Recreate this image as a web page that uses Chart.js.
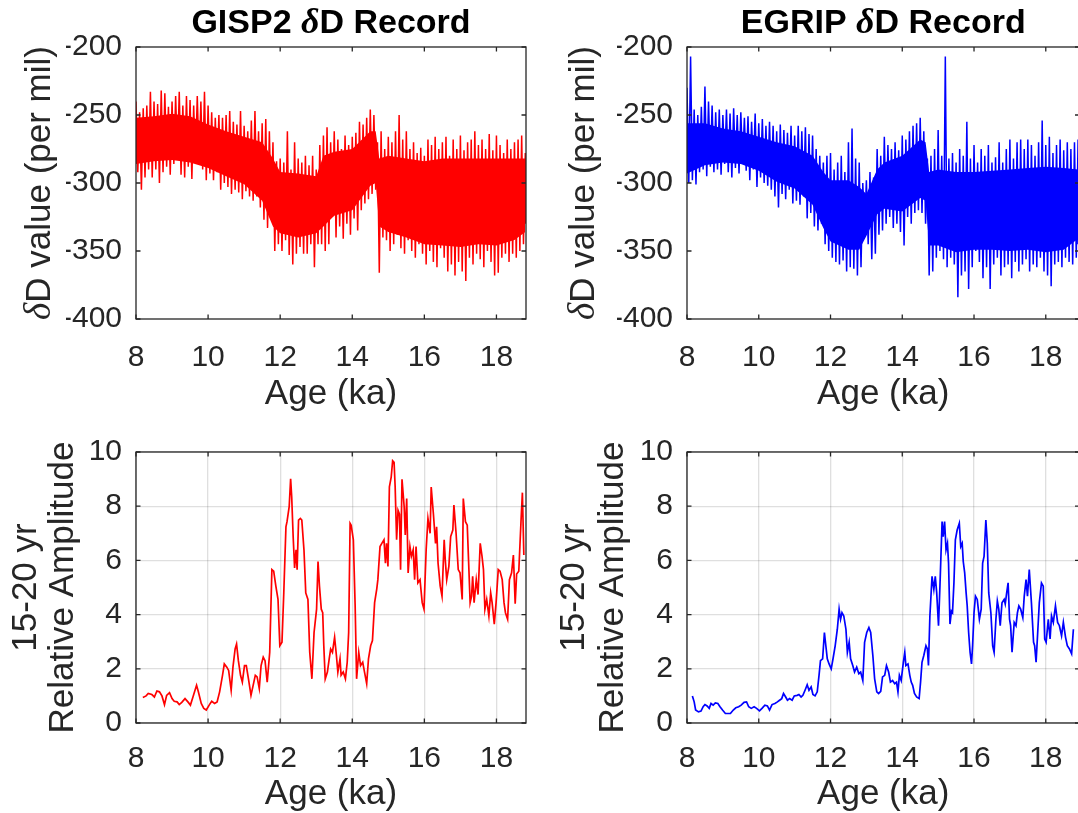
<!DOCTYPE html>
<html><head><meta charset="utf-8">
<script src="https://cdn.jsdelivr.net/npm/chart.js@4.4.0/dist/chart.umd.min.js"></script>
<style>
html,body{margin:0;padding:0;background:#fff;overflow:hidden;width:1078px;height:813px;position:relative;}
canvas{position:absolute;display:block;}
</style></head><body>
<canvas id="c1" width="545" height="420" style="left:0;top:0"></canvas>
<canvas id="c2" width="545" height="420" style="left:545px;top:0"></canvas>
<canvas id="c3" width="545" height="393" style="left:0;top:420px"></canvas>
<canvas id="c4" width="545" height="393" style="left:545px;top:420px"></canvas>
<script>
// ---------- DATA ----------
const recordAge = [8.0,8.1,8.2,8.3,8.4,8.5,8.6,8.7,8.8,8.9,9.0,9.1,9.2,9.3,9.4,9.5,9.6,9.7,9.8,9.9,
 10.0,10.1,10.2,10.3,10.4,10.5,10.6,10.7,10.8,10.9,11.0,11.1,11.2,11.3,11.4,11.5,11.6,11.7,11.8,11.9,
 12.0,12.1,12.2,12.3,12.4,12.5,12.6,12.7,12.8,12.9,13.0,13.1,13.2,13.3,13.4,13.5,13.6,13.7,13.8,13.9,
 14.0,14.1,14.2,14.3,14.4,14.5,14.6,14.7,14.8,14.9,15.0,15.1,15.2,15.3,15.4,15.5,15.6,15.7,15.8,15.9,
 16.0,16.1,16.2,16.3,16.4,16.5,16.6,16.7,16.8,16.9,17.0,17.1,17.2,17.3,17.4,17.5,17.6,17.7,17.8,17.9,
 18.0,18.1,18.2,18.3,18.4,18.5,18.6,18.7,18.8,18.9];

// GISP2 dD: upper and lower excursions per 0.1 ka
const gispHigh = [-240,-248,-245,-243,-233,-240,-242,-232,-234,-244,-240,-236,-233,-243,-236,-239,-243,-236,-240,-233,
 -243,-248,-252,-250,-252,-250,-247,-255,-257,-247,-258,-262,-254,-247,-262,-256,-253,-262,-270,-284,
 -282,-285,-262,-290,-270,-282,-285,-280,-287,-280,-290,-272,-265,-259,-270,-262,-268,-275,-265,-272,
 -266,-263,-255,-257,-252,-246,-250,-270,-262,-275,-266,-270,-262,-250,-268,-262,-275,-270,-278,-274,
 -280,-268,-272,-266,-275,-270,-266,-280,-268,-275,-265,-276,-270,-268,-262,-272,-268,-275,-264,-276,
 -265,-272,-278,-268,-275,-270,-268,-265,-278];
const gispLow = [-292,-305,-296,-290,-296,-290,-300,-292,-288,-294,-286,-283,-294,-296,-288,-297,-285,-283,-290,-298,
 -293,-298,-292,-305,-300,-303,-308,-305,-307,-312,-306,-310,-313,-310,-318,-327,-333,-322,-350,-345,
 -350,-342,-353,-360,-352,-347,-352,-352,-345,-362,-345,-345,-350,-345,-325,-340,-332,-341,-330,-338,
 -326,-335,-320,-315,-312,-308,-305,-366,-340,-342,-350,-345,-338,-348,-352,-342,-350,-355,-345,-352,
 -360,-350,-358,-362,-348,-355,-365,-360,-368,-358,-365,-372,-355,-360,-352,-356,-362,-350,-358,-368,
 -366,-355,-352,-358,-352,-355,-350,-345,-330];
// GISP2 dD: dense core of the signal
const gispCoreAge  = [8.0,8.5,9.0,9.5,10.0,10.5,11.0,11.5,11.8,12.0,12.5,13.0,13.2,13.5,14.0,14.5,14.65,14.75,15.0,15.5,16.0,16.5,17.0,17.5,18.0,18.5,18.8];
const gispCoreHigh = [-252,-251,-249,-251,-257,-262,-266,-270,-282,-292,-293,-295,-280,-277,-275,-262,-262,-282,-280,-282,-284,-282,-282,-282,-282,-282,-282];
const gispCoreLow  = [-286,-284,-283,-285,-289,-295,-301,-313,-332,-337,-340,-337,-332,-324,-320,-302,-300,-332,-336,-340,-345,-346,-347,-345,-346,-342,-336];

// EGRIP dD: upper and lower excursions per 0.1 ka
const egripHigh = [-230,-207,-246,-250,-244,-229,-240,-243,-248,-246,-250,-246,-249,-245,-250,-248,-252,-251,-255,-249,
 -256,-253,-258,-255,-258,-262,-257,-261,-263,-258,-265,-258,-262,-259,-264,-265,-275,-280,-285,-280,
 -278,-290,-285,-280,-292,-270,-260,-282,-285,-300,-298,-292,-296,-275,-280,-266,-272,-275,-270,-276,
 -265,-268,-262,-258,-256,-252,-262,-282,-280,-275,-261,-280,-207,-282,-278,-285,-275,-280,-255,-282,
 -272,-285,-275,-280,-272,-285,-281,-270,-285,-275,-268,-282,-270,-268,-275,-268,-272,-280,-270,-254,
 -272,-266,-278,-272,-268,-276,-270,-275,-270,-268];
const egripLow = [-300,-298,-301,-292,-290,-295,-288,-292,-290,-294,-286,-292,-296,-289,-293,-285,-291,-298,-290,-303,
 -296,-300,-302,-305,-310,-318,-308,-312,-305,-315,-313,-316,-310,-326,-322,-332,-335,-330,-345,-350,
 -355,-358,-360,-357,-365,-362,-363,-368,-362,-335,-345,-356,-352,-338,-335,-330,-325,-333,-330,-336,
 -346,-325,-330,-322,-320,-322,-330,-368,-365,-355,-350,-356,-362,-355,-360,-384,-368,-365,-378,-362,
 -350,-358,-370,-362,-378,-360,-355,-368,-362,-360,-370,-358,-365,-360,-356,-365,-360,-362,-355,-365,
 -368,-376,-360,-358,-362,-355,-358,-360,-355,-345];
// EGRIP dD: dense core of the signal
const egripCoreAge  = [8.0,8.5,9.0,9.5,10.0,10.5,11.0,11.5,11.8,12.0,12.5,12.8,13.0,13.3,13.5,14.0,14.5,14.65,14.75,15.0,15.5,16.0,16.5,17.0,17.5,18.0,18.5,18.9];
const egripCoreHigh = [-256,-256,-260,-262,-266,-270,-273,-280,-292,-298,-298,-303,-308,-290,-285,-280,-268,-270,-292,-290,-292,-292,-291,-290,-289,-288,-289,-290];
const egripCoreLow  = [-293,-287,-285,-286,-291,-299,-304,-316,-333,-343,-349,-349,-339,-323,-319,-321,-311,-313,-346,-346,-351,-349,-349,-350,-349,-351,-349,-341];

// 15-20 yr relative amplitude, GISP2
const gispAmpAge = [8.19,8.28,8.34,8.44,8.51,8.58,8.65,8.72,8.79,8.85,8.93,9.00,9.06,9.14,9.20,9.27,9.36,9.44,9.51,9.58,
 9.68,9.73,9.81,9.88,9.95,10.03,10.10,10.18,10.25,10.32,10.40,10.45,10.52,10.57,10.64,10.69,10.75,10.79,10.84,10.90,
 10.95,11.01,11.06,11.12,11.19,11.25,11.31,11.36,11.42,11.47,11.53,11.58,11.64,11.71,11.77,11.82,11.88,11.94,11.99,12.05,
 12.10,12.16,12.19,12.25,12.29,12.32,12.36,12.40,12.44,12.47,12.51,12.56,12.60,12.66,12.71,12.77,12.82,12.88,12.94,13.01,
 13.05,13.09,13.14,13.18,13.21,13.25,13.31,13.36,13.40,13.45,13.51,13.56,13.60,13.66,13.69,13.75,13.81,13.86,13.90,13.94,
 13.97,14.03,14.08,14.12,14.18,14.23,14.29,14.34,14.40,14.45,14.51,14.56,14.62,14.68,14.71,14.77,14.82,14.88,14.92,14.95,
 14.99,15.03,15.08,15.12,15.16,15.19,15.23,15.27,15.31,15.34,15.38,15.44,15.47,15.51,15.55,15.60,15.64,15.69,15.73,15.77,
 15.82,15.88,15.94,15.99,16.05,16.10,16.16,16.19,16.25,16.31,16.34,16.38,16.44,16.49,16.55,16.58,16.62,16.68,16.73,16.79,
 16.82,16.88,16.94,16.99,17.05,17.08,17.14,17.19,17.27,17.31,17.34,17.38,17.44,17.49,17.55,17.60,17.64,17.68,17.73,17.79,
 17.84,17.88,17.94,17.99,18.05,18.10,18.16,18.21,18.25,18.31,18.36,18.42,18.47,18.52,18.56,18.62,18.68,18.72,18.76];
const gispAmp = [0.94,1.00,1.09,1.05,0.96,1.18,1.15,1.00,0.68,1.02,1.12,0.90,0.80,0.78,0.68,0.76,0.90,0.78,0.66,0.96,
 1.39,1.15,0.72,0.54,0.48,0.66,0.80,0.72,0.78,1.15,1.76,2.18,2.06,1.94,1.21,2.06,2.73,2.91,2.30,1.76,
 1.51,2.12,2.12,1.63,1.02,1.39,1.76,1.70,1.27,2.12,2.43,2.30,1.51,2.61,5.66,5.60,5.05,4.56,2.85,2.98,
 4.80,7.24,7.43,7.98,9.01,8.34,6.88,5.72,6.39,5.66,7.49,7.55,7.49,6.39,4.80,4.56,2.61,1.63,3.34,4.20,
 5.96,5.05,4.20,4.07,2.85,1.63,1.88,2.37,2.73,2.61,3.16,2.49,1.88,2.37,1.76,1.88,1.63,2.24,3.34,7.37,
 7.30,6.76,4.32,1.63,2.61,2.12,2.24,1.88,1.45,2.37,2.85,3.04,4.44,4.95,5.29,6.51,6.63,6.76,5.90,6.63,
 5.78,8.71,9.07,9.68,9.62,8.71,6.76,7.85,7.71,5.66,8.99,7.98,6.94,8.28,5.54,6.51,6.15,6.39,5.29,6.51,
 5.17,5.29,4.44,4.20,6.39,7.55,7.00,8.71,7.73,6.63,7.24,5.90,5.05,4.68,6.76,6.02,5.29,5.78,6.88,7.12,
 8.04,7.00,5.66,5.54,4.56,8.28,7.43,7.30,4.44,4.68,5.41,4.44,5.29,4.74,6.63,6.15,5.66,4.20,4.56,3.95,
 4.80,4.44,3.65,4.44,5.66,5.60,5.29,4.44,4.07,3.83,5.29,5.54,6.20,4.40,5.50,5.60,7.40,8.50,6.20];

// 15-20 yr relative amplitude, EGRIP
const egripAmpAge = [8.15,8.20,8.24,8.32,8.39,8.45,8.50,8.56,8.62,8.67,8.73,8.79,8.86,8.92,8.99,9.07,9.14,9.21,9.29,9.36,
 9.44,9.51,9.59,9.66,9.72,9.79,9.87,9.94,10.02,10.09,10.17,10.24,10.30,10.37,10.45,10.52,10.58,10.64,10.69,10.75,
 10.80,10.86,10.93,10.99,11.07,11.12,11.18,11.23,11.29,11.35,11.40,11.46,11.51,11.57,11.63,11.68,11.72,11.78,11.83,11.87,
 11.91,11.96,12.02,12.07,12.13,12.19,12.24,12.28,12.32,12.37,12.43,12.47,12.52,12.56,12.62,12.67,12.73,12.79,12.84,12.90,
 12.95,13.01,13.07,13.12,13.18,13.23,13.29,13.34,13.40,13.45,13.51,13.56,13.62,13.67,13.73,13.79,13.84,13.88,13.92,13.97,
 14.03,14.07,14.10,14.16,14.21,14.25,14.29,14.34,14.40,14.47,14.51,14.55,14.60,14.66,14.70,14.73,14.77,14.83,14.88,14.92,
 14.96,15.01,15.05,15.11,15.14,15.18,15.22,15.26,15.29,15.33,15.37,15.40,15.44,15.48,15.53,15.59,15.63,15.67,15.70,15.74,
 15.78,15.81,15.85,15.89,15.93,15.96,16.00,16.04,16.09,16.15,16.20,16.24,16.28,16.33,16.37,16.41,16.47,16.52,16.56,16.61,
 16.65,16.69,16.73,16.78,16.84,16.87,16.91,16.95,16.99,17.02,17.06,17.12,17.17,17.21,17.25,17.30,17.36,17.40,17.45,17.49,
 17.54,17.60,17.66,17.69,17.73,17.77,17.82,17.88,17.93,17.97,18.01,18.07,18.12,18.16,18.21,18.27,18.33,18.38,18.44,18.49,
 18.55,18.60,18.66,18.72,18.77];
const egripAmp = [1.00,0.78,0.48,0.41,0.44,0.60,0.68,0.63,0.54,0.72,0.66,0.74,0.72,0.60,0.48,0.35,0.35,0.35,0.48,0.56,
 0.60,0.66,0.76,0.78,0.60,0.54,0.60,0.54,0.45,0.54,0.66,0.63,0.48,0.68,0.72,0.78,0.84,0.90,1.09,0.96,
 0.84,0.90,0.84,1.00,1.02,1.05,0.96,1.02,1.21,1.41,1.21,1.33,1.05,1.00,1.15,1.76,2.30,2.37,3.34,2.85,
 2.37,2.18,2.00,2.37,2.85,3.46,4.20,3.83,4.07,3.95,3.46,2.61,2.98,2.37,2.12,1.88,2.06,1.82,1.88,1.57,
 2.98,3.34,3.52,3.34,2.49,1.63,1.15,1.09,1.17,1.70,1.76,2.12,1.88,1.51,1.57,1.45,1.51,1.15,1.76,1.57,
 2.24,2.61,2.12,2.18,1.76,1.51,1.39,1.09,0.96,0.90,1.51,2.24,2.49,2.85,2.73,2.12,3.95,5.41,4.93,5.41,
 4.80,3.59,5.05,7.43,6.88,7.43,6.39,6.63,5.90,3.65,4.13,4.07,5.17,6.76,7.12,7.37,6.51,6.63,5.96,5.54,
 4.80,4.32,3.34,2.61,2.18,2.85,4.07,4.68,4.56,3.83,4.20,5.90,6.15,7.49,6.63,4.80,4.07,2.85,2.61,3.83,
 4.50,4.20,3.59,4.44,4.56,4.39,4.80,5.17,3.83,3.59,2.61,3.71,3.59,4.07,4.32,4.20,3.89,4.68,5.29,4.68,
 5.66,4.44,2.98,2.85,2.24,3.22,4.44,5.17,5.05,3.10,2.98,3.83,3.10,3.95,3.71,4.32,3.71,3.59,3.22,3.71,
 3.17,2.85,2.73,2.55,3.46];

const xTickStep = 2;
const deltaTicks = {min:-400, max:-200, step:50};
const ampTicks = {min:0, max:10, step:2};

// ---------- RENDERING ----------
const FONT = '"Liberation Sans", Arial, Helvetica, sans-serif';
const SERIF = '"Liberation Serif", "Times New Roman", serif';
const TXT = '#262626';
const TICK_SIZE = 30, LABEL_SIZE = 35, TITLE_SIZE = 34;

function highPts(age, hi){ return hi.map((v,i)=>({x:age[i], y:v})); }
function lowPts(age, lo){
  const n = lo.length;
  return lo.map((v,i)=>({x:(i<n-1)?(age[i]+age[i+1])/2:age[i], y:v}));
}
function zigzag(age, hi, lo){
  const h = highPts(age, hi), l = lowPts(age, lo), pts = [];
  for (let i=0;i<Math.min(h.length,l.length);i++){ pts.push(h[i]); pts.push(l[i]); }
  return pts;
}
function pairs(ax, ay){ return ax.map((a,i)=>({x:a,y:ay[i]})); }

function drawRuns(ctx, runs, x, y){
  let w=0; for(const r of runs){ctx.font=r.f; w+=ctx.measureText(r.t).width;}
  let cx = x - w/2; ctx.textAlign='left';
  for(const r of runs){ctx.font=r.f; ctx.fillText(r.t,cx,y); cx+=ctx.measureText(r.t).width;}
}

function makeChart(id, spec){
  const Wy = 70, Hx = 60;
  const canvas = document.getElementById(id);
  const W = canvas.width, H = canvas.height;
  const a = spec.area;
  const decor = {
    id:'decor',
    afterDraw(chart){
      const ctx = chart.ctx, ca = chart.chartArea, xs = chart.scales.x, ys = chart.scales.y;
      ctx.save();
      ctx.strokeStyle = TXT; ctx.lineWidth = 1.3;
      ctx.strokeRect(ca.left, ca.top, ca.right-ca.left, ca.bottom-ca.top);
      const L = 4.5;
      ctx.beginPath();
      xs.ticks.forEach(t=>{ const p = xs.getPixelForValue(t.value);
        ctx.moveTo(p, ca.bottom); ctx.lineTo(p, ca.bottom-L);
        ctx.moveTo(p, ca.top); ctx.lineTo(p, ca.top+L); });
      ys.ticks.forEach(t=>{ const p = ys.getPixelForValue(t.value);
        ctx.moveTo(ca.left, p); ctx.lineTo(ca.left+L, p);
        ctx.moveTo(ca.right, p); ctx.lineTo(ca.right-L, p); });
      ctx.stroke();
      const cxm = (ca.left+ca.right)/2, cym = (ca.top+ca.bottom)/2;
      ctx.fillStyle = TXT; ctx.textBaseline='middle';
      drawRuns(ctx, [{t:'Age (ka)', f:`${LABEL_SIZE}px ${FONT}`}], cxm, ca.bottom+spec.xlabOff);
      if (spec.title){
        ctx.fillStyle = '#000'; ctx.textBaseline='alphabetic';
        drawRuns(ctx, [{t:spec.title[0]+' ', f:`bold ${TITLE_SIZE}px ${FONT}`},
                       {t:'δ', f:`italic bold ${TITLE_SIZE+2}px ${SERIF}`},
                       {t:'D '+spec.title[1], f:`bold ${TITLE_SIZE}px ${FONT}`}], cxm, ca.top-14);
      }
      ctx.fillStyle = TXT; ctx.textBaseline='middle';
      ctx.save();
      if (spec.ylabel === 'delta'){
        ctx.translate(ca.left-spec.ylabOff[0], cym); ctx.rotate(-Math.PI/2);
        drawRuns(ctx, [{t:'δ', f:`italic ${LABEL_SIZE+2}px ${SERIF}`},{t:'D value (per mil)', f:`${LABEL_SIZE}px ${FONT}`}], 0, 0);
      } else {
        ctx.translate(ca.left-spec.ylabOff[0], cym); ctx.rotate(-Math.PI/2);
        drawRuns(ctx, [{t:'15-20 yr', f:`${LABEL_SIZE}px ${FONT}`}], 0, 0);
        ctx.restore(); ctx.save();
        ctx.translate(ca.left-spec.ylabOff[1], cym); ctx.rotate(-Math.PI/2);
        drawRuns(ctx, [{t:'Relative Amplitude', f:`${LABEL_SIZE}px ${FONT}`}], 0, 0);
      }
      ctx.restore();
      ctx.restore();
    }
  };
  return new Chart(canvas, {
    type:'line',
    data:{datasets:spec.datasets},
    options:{
      responsive:false, animation:false, events:[],
      parsing:false,
      layout:{padding:{left:a.l-Wy, top:a.t, right:W-a.r, bottom:H-a.b-Hx}},
      plugins:{legend:{display:false}, tooltip:{enabled:false}, title:{display:false}},
      elements:{point:{radius:0}, line:{tension:0}},
      scales:{
        x:{type:'linear', min:8, max:spec.xmax,
           ticks:{stepSize:xTickStep, includeBounds:false, autoSkip:false, maxRotation:0, padding:spec.xtickPad,
                  color:TXT, font:{family:FONT, size:TICK_SIZE}},
           grid:{display:spec.grid, drawTicks:false, color:'rgba(38,38,38,0.15)', lineWidth:1.3},
           border:{display:false},
           afterFit(s){ s.height = Hx; }},
        y:{type:'linear', min:spec.yt.min, max:spec.yt.max,
           ticks:{stepSize:spec.yt.step, autoSkip:false, padding:14,
                  color:TXT, font:{family:FONT, size:TICK_SIZE}},
           grid:{display:spec.grid, drawTicks:false, color:'rgba(38,38,38,0.15)', lineWidth:1.3},
           border:{display:false},
           afterFit(s){ s.width = Wy; }}
      }
    },
    plugins:[decor]
  });
}

function recordSets(hi, lo, coreAge, coreHi, coreLo, color){
  return [
    {data:pairs(coreAge, coreHi), borderWidth:0, borderColor:color, backgroundColor:color, fill:'+1', pointRadius:0},
    {data:pairs(coreAge, coreLo), borderWidth:0, borderColor:color, fill:false, pointRadius:0},
    {data:zigzag(recordAge, hi, lo), borderWidth:1.5, borderColor:color, fill:false, pointRadius:0}
  ];
}
function ampSets(ax, ay, color){
  return [{data:pairs(ax, ay), borderWidth:1.7, borderColor:color, fill:false, pointRadius:0}];
}

makeChart('c1', {area:{l:136,t:47,r:526,b:319}, xmax:18.82, yt:deltaTicks, grid:false, xtickPad:21, xlabOff:75,
  datasets:recordSets(gispHigh, gispLow, gispCoreAge, gispCoreHigh, gispCoreLow, '#ff0000'),
  title:['GISP2','Record'], ylabel:'delta', ylabOff:[96]});
makeChart('c2', {area:{l:142,t:47,r:534.5,b:319}, xmax:18.94, yt:deltaTicks, grid:false, xtickPad:21, xlabOff:75,
  datasets:recordSets(egripHigh, egripLow, egripCoreAge, egripCoreHigh, egripCoreLow, '#0000ff'),
  title:['EGRIP','Record'], ylabel:'delta', ylabOff:[103]});
makeChart('c3', {area:{l:136,t:30,r:526,b:303}, xmax:18.82, yt:ampTicks, grid:true, xtickPad:18, xlabOff:71,
  datasets:ampSets(gispAmpAge, gispAmp, '#ff0000'), ylabel:'amp', ylabOff:[110,73]});
makeChart('c4', {area:{l:142,t:30,r:534.5,b:303}, xmax:18.94, yt:ampTicks, grid:true, xtickPad:18, xlabOff:71,
  datasets:ampSets(egripAmpAge, egripAmp, '#0000ff'), ylabel:'amp', ylabOff:[113,74]});
</script>
</body></html>
